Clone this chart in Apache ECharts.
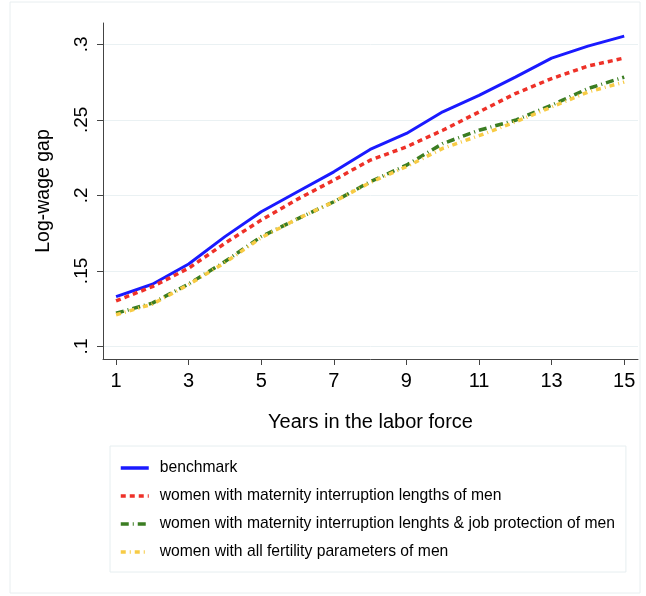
<!DOCTYPE html>
<html>
<head>
<meta charset="utf-8">
<script src="https://cdn.jsdelivr.net/npm/echarts@6/dist/echarts.min.js"></script>
<style>
  html, body { margin: 0; padding: 0; background: #fff; }
  #chart { width: 646px; height: 596px; }
</style>
</head>
<body>
<div id="chart"></div>
<script>
// years in the labor force
const years = [1, 2, 3, 4, 5, 6, 7, 8, 9, 10, 11, 12, 13, 14, 15];

// log-wage gap
const benchmark = [0.133, 0.1412, 0.1546, 0.1727, 0.1892, 0.2024, 0.2156, 0.2304, 0.241, 0.2553, 0.2662, 0.2783, 0.2909, 0.2988, 0.3054];
const interruptionLengths = [0.1302, 0.1396, 0.1518, 0.1683, 0.1837, 0.1975, 0.2101, 0.2233, 0.2321, 0.2431, 0.2552, 0.2674, 0.2773, 0.2856, 0.2909];
const lengthsAndProtection = [0.122, 0.1287, 0.1414, 0.1562, 0.1727, 0.1845, 0.1958, 0.209, 0.22, 0.2343, 0.2431, 0.2497, 0.2597, 0.2707, 0.2783];
const allFertility = [0.121, 0.128, 0.141, 0.1555, 0.172, 0.1845, 0.1958, 0.2085, 0.219, 0.2311, 0.2395, 0.2486, 0.2585, 0.2684, 0.275];

const seriesNames = [
  'benchmark',
  'women with maternity interruption lengths of men',
  'women with maternity interruption lenghts & job protection of men',
  'women with all fertility parameters of men'
];

const xTicks = [1, 3, 5, 7, 9, 11, 13, 15];
const yTicks = [0.1, 0.15, 0.2, 0.25, 0.3];

const FONT = 'Liberation Sans';

const chart = echarts.init(document.getElementById('chart'), null, { renderer: 'canvas' });

function mkSeries(name, vals, color, type, width) {
  return {
    name: name,
    type: 'line',
    symbol: 'none',
    data: years.map((y, i) => [y, vals[i]]),
    lineStyle: { color: color, width: width, type: type, cap: 'butt' },
    itemStyle: { color: color },
    animation: false
  };
}

chart.setOption({
  backgroundColor: '#fff',
  animation: false,
  graphic: [{
    type: 'rect',
    shape: { x: 10, y: 2, width: 630, height: 591 },
    style: { fill: 'none', stroke: '#e8eef0', lineWidth: 1 },
    silent: true,
    z: -1
  }],
  grid: { left: 103, right: 8, top: 23, bottom: 237 },
  xAxis: {
    type: 'value',
    min: 0.64,
    max: 15.38,
    name: 'Years in the labor force',
    nameLocation: 'middle',
    nameGap: 53,
    nameTextStyle: { fontFamily: FONT, fontSize: 20, color: '#000' },
    axisLine: { show: true, lineStyle: { color: '#444', width: 1 } },
    axisTick: { show: true, length: 6, customValues: xTicks, lineStyle: { color: '#444' } },
    axisLabel: { customValues: xTicks, fontFamily: FONT, fontSize: 20, color: '#000', margin: 12 },
    splitLine: { show: false }
  },
  yAxis: {
    type: 'value',
    min: 0.0917,
    max: 0.3141,
    name: 'Log-wage gap',
    nameLocation: 'middle',
    nameRotate: 90,
    nameGap: 49,
    nameTextStyle: { fontFamily: FONT, fontSize: 19.5, color: '#000' },
    axisLine: { show: true, lineStyle: { color: '#444', width: 1 } },
    axisTick: { show: true, length: 6, customValues: yTicks, lineStyle: { color: '#444' } },
    axisLabel: {
      customValues: yTicks,
      rotate: 90,
      fontFamily: FONT,
      fontSize: 19,
      color: '#000',
      margin: 12,
      formatter: v => String(+v.toFixed(2)).replace(/^0\./, '.')
    },
    splitLine: { show: true, lineStyle: { color: '#eaf1f3', width: 1 } }
  },
  legend: {
    orient: 'vertical',
    left: 110,
    top: 446,
    data: seriesNames,
    backgroundColor: '#fff',
    borderColor: '#e6eef0',
    borderWidth: 1,
    padding: [14, 11, 12, 9],
    itemGap: 12,
    itemWidth: 28,
    itemHeight: 14,
    itemStyle: { opacity: 0 },
    lineStyle: { width: 3.5 },
    textStyle: { fontFamily: FONT, fontSize: 15.7, color: '#000', padding: [0, 0, 0, 6] }
  },
  series: [
    mkSeries(seriesNames[0], benchmark, '#1a1aff', 'solid', 3),
    mkSeries(seriesNames[1], interruptionLengths, '#ee3128', [5, 4], 3.5),
    mkSeries(seriesNames[2], lengthsAndProtection, '#3b7d22', [8, 4, 1, 4], 3.5),
    mkSeries(seriesNames[3], allFertility, '#f7cb45', [5, 4, 1, 4], 3.5)
  ]
});
</script>
</body>
</html>
